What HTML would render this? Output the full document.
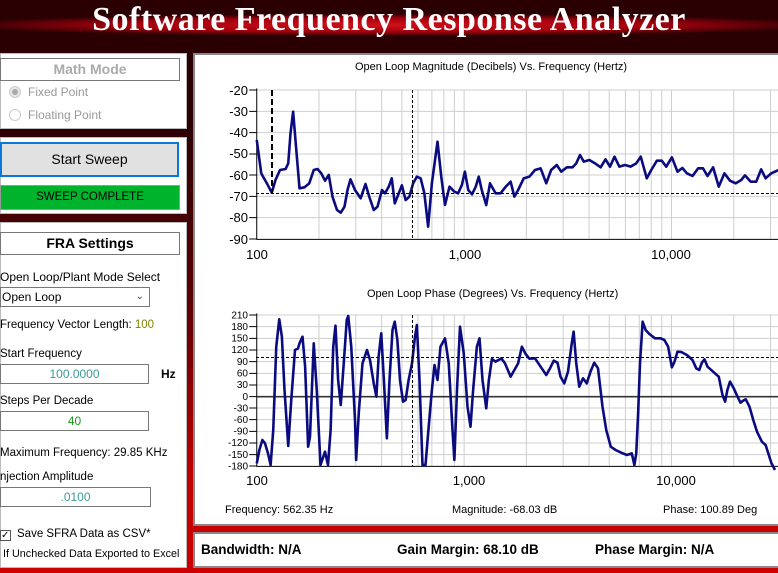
<!DOCTYPE html>
<html><head><meta charset="utf-8"><style>
*{margin:0;padding:0;box-sizing:border-box}
body{width:778px;height:573px;overflow:hidden;position:relative;font-family:"Liberation Sans",sans-serif;background:linear-gradient(#2a0003 0px,#2a0003 120px,#5a0004 300px,#c20000 480px,#cc0000 573px)}
.hdr{position:absolute;left:0;top:0;width:778px;height:53px;background:#2a0003;overflow:hidden}
.streak{position:absolute;left:-40px;top:14px;width:860px;height:22px;border-radius:50%;background:radial-gradient(ellipse at center,#d0101a 0%,#a0000c 45%,rgba(80,0,5,0) 72%)}
.title{position:absolute;left:0;width:778px;top:1px;text-align:center;color:#fff;font-family:"Liberation Serif",serif;font-size:34px;font-weight:bold;letter-spacing:0.5px}
.pnl{position:absolute;background:#fff;border:1px solid #bbb}
.t{position:absolute;font-size:12px;color:#000;white-space:nowrap}
.box{position:absolute;border:1px solid #777;background:#fff}
</style></head><body>
<div class="hdr"><div class="streak"></div><div class="title">Software Frequency Response Analyzer</div></div>

<div class="pnl" style="left:0;top:53px;width:187px;height:76px"></div>
<div class="box" style="left:0;top:58px;width:180px;height:23px;text-align:center;font-weight:bold;font-size:14px;color:#aaa;line-height:21px">Math Mode</div>
<div style="position:absolute;left:9px;top:86px;width:12px;height:12px;border-radius:50%;border:1px solid #ccc;background:#e8e8e8"><div style="margin:2px;width:6px;height:6px;border-radius:50%;background:#aaa"></div></div>
<div class="t" style="left:28px;top:85px;color:#999">Fixed Point</div>
<div style="position:absolute;left:9px;top:109px;width:12px;height:12px;border-radius:50%;border:1px solid #ccc"></div>
<div class="t" style="left:28px;top:108px;color:#999">Floating Point</div>

<div class="pnl" style="left:0;top:137px;width:187px;height:77px"></div>
<div style="position:absolute;left:0;top:142px;width:179px;height:35px;border:2px solid #0a78d7;background:#e1e1e1;text-align:center;line-height:31px;font-size:14px">Start Sweep</div>
<div style="position:absolute;left:0;top:185px;width:180px;height:25px;background:#00b32c;border:1px solid #999;text-align:center;line-height:23px;font-size:11.5px">SWEEP COMPLETE</div>

<div class="pnl" style="left:0;top:222px;width:187px;height:346px"></div>
<div class="box" style="left:0;top:232px;width:180px;height:23px;text-align:center;font-weight:bold;font-size:14px;line-height:21px">FRA Settings</div>
<div class="t" style="left:0;top:270px">Open Loop/Plant Mode Select</div>
<div class="box" style="left:0;top:287px;width:150px;height:20px;font-size:12px;line-height:18px;padding-left:1px">Open Loop<span style="position:absolute;right:5px;top:0;font-size:10px;color:#444">&#8964;</span></div>
<div class="t" style="left:0;top:319px;font-size:11.5px">Frequency Vector Length: <span style="color:#808000">100</span></div>
<div class="t" style="left:0;top:348px;font-size:11.5px">Start Frequency</div>
<div class="box" style="left:0;top:364px;width:149px;height:20px;text-align:center;font-size:12px;line-height:18px;color:#3a9a9a">100.0000</div>
<div class="t" style="left:161px;top:367px;font-weight:bold">Hz</div>
<div class="t" style="left:0;top:395px;font-size:11.5px">Steps Per Decade</div>
<div class="box" style="left:0;top:411px;width:149px;height:20px;text-align:center;font-size:12px;line-height:18px;color:#1a9a1a">40</div>
<div class="t" style="left:0;top:447px;font-size:11.5px">Maximum Frequency: 29.85 KHz</div>
<div class="t" style="left:0;top:471px;font-size:11.5px">njection Amplitude</div>
<div class="box" style="left:0;top:487px;width:151px;height:20px;text-align:center;font-size:12px;line-height:18px;color:#3a9a9a">.0100</div>
<div style="position:absolute;left:0;top:530px;width:11px;height:11px;border:1px solid #555;font-size:10px;line-height:9px">&#10003;</div>
<div class="t" style="left:17px;top:528px;font-size:11.5px">Save SFRA Data as CSV*</div>
<div class="t" style="left:3px;top:548px;font-size:10.8px">If Unchecked Data Exported to Excel</div>

<div class="pnl" style="left:193px;top:53px;width:590px;height:473px;border:2px solid #888"></div>
<div class="pnl" style="left:193px;top:532px;width:590px;height:36px;border:2px solid #888"></div>
<div class="t" style="left:201px;top:542px;font-weight:bold;font-size:13.5px">Bandwidth: N/A</div>
<div class="t" style="left:397px;top:542px;font-weight:bold;font-size:13.5px">Gain Margin: 68.10 dB</div>
<div class="t" style="left:595px;top:542px;font-weight:bold;font-size:13.5px">Phase Margin: N/A</div>
<div class="t" style="left:225px;top:504px;font-size:11px">Frequency: 562.35 Hz</div>
<div class="t" style="left:452px;top:504px;font-size:11px">Magnitude: -68.03 dB</div>
<div class="t" style="left:663px;top:504px;font-size:11px">Phase: 100.89 Deg</div>
<div class="t" style="left:355px;top:61px;font-size:11px">Open Loop Magnitude (Decibels) Vs. Frequency (Hertz)</div>
<div class="t" style="left:367px;top:288px;font-size:11px">Open Loop Phase (Degrees) Vs. Frequency (Hertz)</div>

<svg width="778" height="573" style="position:absolute;left:0;top:0" xmlns="http://www.w3.org/2000/svg">
<g transform="translate(190,50) scale(0.375,0.333333)" stroke-width="1">
<g stroke="#cfcfcf" vector-effect="non-scaling-stroke">
<path vector-effect="non-scaling-stroke" d="M344 120V567M442 120V567M511 120V567M565 120V567M608 120V567M645 120V567M677 120V567M705 120V567M731 120V567M897 120V567M995 120V567M1064 120V567M1118 120V567M1161 120V567M1198 120V567M1230 120V567M1258 120V567M1284 120V567M1450 120V567M1548 120V567M1614 120V567M178 120H1800M178 184H1800M178 248H1800M178 312H1800M178 375H1800M178 439H1800M178 503H1800"/>
</g>
<path stroke="#000" fill="none" vector-effect="non-scaling-stroke" d="M178 115V568H1800M158 120H178M158 184H178M158 248H178M158 312H178M158 375H178M158 439H178M158 503H178M158 567H178"/>
<polyline fill="none" stroke="#0b0b80" stroke-width="2.6" vector-effect="non-scaling-stroke" stroke-linejoin="round" points="178,270 190,370 205,400 218,428 228,390 240,360 255,357 262,340 268,250 275,185 282,280 292,415 305,412 318,400 330,360 340,357 350,370 360,392 370,375 380,440 392,480 402,488 412,470 420,420 428,388 440,420 455,445 468,402 478,440 490,480 500,470 512,420 520,430 530,410 538,385 546,460 555,435 565,406 575,450 585,440 595,400 605,380 615,385 625,430 635,530 645,400 660,275 670,380 680,465 692,410 705,425 715,430 725,405 733,365 742,420 752,433 762,410 770,380 778,420 790,465 800,400 815,430 828,430 842,410 855,395 865,440 875,420 890,385 905,380 920,360 935,355 950,400 963,360 978,345 990,365 1005,352 1020,352 1030,340 1040,315 1050,335 1065,330 1080,340 1095,352 1108,328 1120,350 1132,320 1145,350 1160,345 1175,350 1190,340 1202,320 1218,385 1230,360 1245,332 1258,332 1270,350 1285,322 1300,365 1313,354 1325,370 1340,378 1355,355 1368,355 1380,378 1395,352 1410,410 1425,370 1440,392 1455,400 1470,390 1480,376 1495,395 1510,395 1523,358 1535,385 1550,370 1570,360"/>
</g>
<line x1="272" y1="90" x2="272" y2="193" stroke="#000" stroke-width="2" stroke-dasharray="6,3"/>
<line x1="412.5" y1="90" x2="412.5" y2="239" stroke="#000" stroke-width="1" stroke-dasharray="3,2"/>
<line x1="256" y1="193.5" x2="778" y2="193.5" stroke="#000" stroke-width="1" stroke-dasharray="3,2"/>
<g font-family="Liberation Sans" font-size="13" text-anchor="end" fill="#000">
<text x="248" y="95">-20</text><text x="248" y="116">-30</text><text x="248" y="137">-40</text><text x="248" y="158">-50</text><text x="248" y="180">-60</text><text x="248" y="201">-70</text><text x="248" y="222">-80</text><text x="248" y="244">-90</text>
</g>
<g font-family="Liberation Sans" font-size="13" text-anchor="middle" fill="#000">
<text x="257" y="259">100</text><text x="465" y="259">1,000</text><text x="671" y="259">10,000</text>
</g>

<g transform="translate(190,280) scale(0.375,0.333333)">
<path stroke="#cfcfcf" fill="none" vector-effect="non-scaling-stroke" d="M344 105V558M442 105V558M511 105V558M565 105V558M608 105V558M645 105V558M677 105V558M705 105V558M731 105V558M897 105V558M995 105V558M1064 105V558M1118 105V558M1161 105V558M1198 105V558M1230 105V558M1258 105V558M1284 105V558M1450 105V558M1548 105V558M1614 105V558M178 105H1800M178 140H1800M178 175H1800M178 210H1800M178 245H1800M178 280H1800M178 315H1800M178 384H1800M178 419H1800M178 454H1800M178 489H1800M178 524H1800"/>
<path stroke="#000" fill="none" vector-effect="non-scaling-stroke" d="M178 100V559H1800M158 105H178M158 140H178M158 175H178M158 210H178M158 245H178M158 280H178M158 315H178M158 350H178M158 384H178M158 419H178M158 454H178M158 489H178M158 524H178M158 558H178"/>
<path stroke="#333" stroke-width="1.6" vector-effect="non-scaling-stroke" d="M178 350H1800"/>
<polyline fill="none" stroke="#0b0b80" stroke-width="2.6" vector-effect="non-scaling-stroke" stroke-linejoin="round" points="178,550 185,510 193,480 200,490 208,520 215,555 222,450 230,200 238,118 245,170 252,330 262,498 270,360 280,210 288,205 292,190 300,170 307,260 315,500 320,470 330,190 338,330 348,555 360,515 368,555 375,450 382,200 388,137 395,300 402,375 410,250 418,120 422,108 430,200 440,420 443,540 450,400 460,250 472,210 480,240 490,310 497,350 503,230 510,160 517,300 525,475 532,300 540,150 546,125 553,180 560,300 568,365 575,360 583,300 592,250 600,170 605,135 612,300 620,555 628,555 635,460 645,330 652,255 660,300 668,200 680,175 690,250 700,450 705,540 712,330 720,140 730,220 740,380 748,440 755,330 765,200 772,175 780,300 790,385 797,300 805,237 815,245 830,235 840,250 855,290 865,270 875,250 885,200 895,222 905,236 920,235 935,260 950,285 960,265 970,242 980,248 988,290 998,310 1008,275 1018,190 1023,155 1030,250 1038,320 1048,295 1058,310 1068,275 1078,248 1088,265 1100,380 1110,450 1122,500 1135,510 1150,518 1165,525 1178,520 1185,555 1190,520 1195,400 1200,250 1207,125 1215,150 1225,162 1240,175 1255,175 1265,180 1275,200 1285,262 1292,245 1300,215 1310,216 1325,225 1340,240 1350,265 1358,270 1365,248 1372,238 1380,260 1395,275 1410,290 1420,345 1427,365 1433,330 1440,305 1450,325 1460,350 1468,368 1475,362 1482,358 1492,380 1502,420 1512,455 1525,485 1535,495 1550,548 1560,570"/>
</g>
<line x1="412.5" y1="315" x2="412.5" y2="466" stroke="#000" stroke-width="1" stroke-dasharray="3,2"/>
<line x1="256" y1="357.5" x2="778" y2="357.5" stroke="#000" stroke-width="1" stroke-dasharray="3,2"/>
<g font-family="Liberation Sans" font-size="10" text-anchor="end" fill="#000">
<text x="248" y="318.5">210</text><text x="248" y="330">180</text><text x="248" y="341.5">150</text><text x="248" y="353">120</text><text x="248" y="365">90</text><text x="248" y="376.5">60</text><text x="248" y="388">30</text><text x="248" y="400">0</text><text x="248" y="411.5">-30</text><text x="248" y="423">-60</text><text x="248" y="434.5">-90</text><text x="248" y="446">-120</text><text x="248" y="458">-150</text><text x="248" y="469.5">-180</text>
</g>
<g font-family="Liberation Sans" font-size="13" text-anchor="middle" fill="#000">
<text x="257" y="485">100</text><text x="469" y="485">1,000</text><text x="676" y="485">10,000</text>
</g>
</svg>
</body></html>
